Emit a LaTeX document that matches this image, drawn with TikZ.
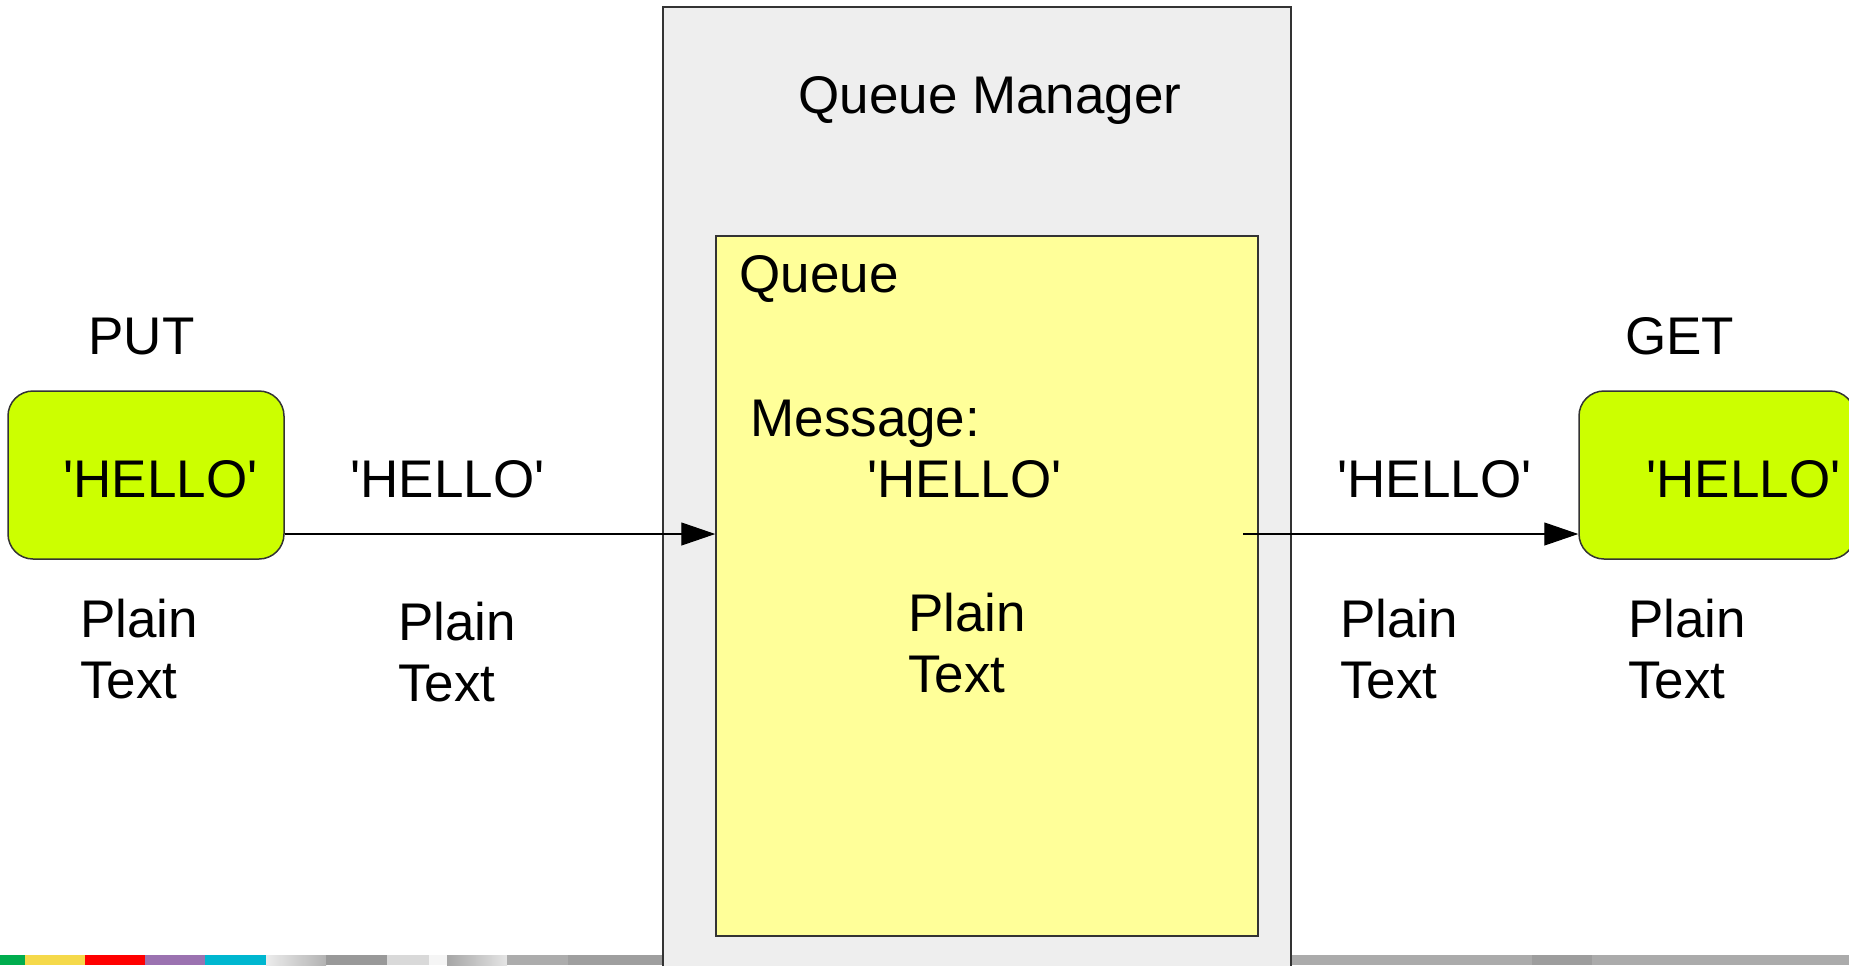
\documentclass[tikz,border=0pt]{standalone}
\usepackage{fontspec}
\setmainfont{Liberation Sans}
\usetikzlibrary{arrows.meta}
\newcommand{\sq}{\textquotesingle}
\definecolor{qmgray}{HTML}{EEEEEE}
\definecolor{qyellow}{HTML}{FFFF99}
\definecolor{lime}{HTML}{CCFF00}
\definecolor{edge}{HTML}{333333}
\definecolor{sgreen}{HTML}{00AD4E}
\definecolor{syellow}{HTML}{F5D94A}
\definecolor{sred}{HTML}{FF0000}
\definecolor{spurple}{HTML}{9B72B0}
\definecolor{scyan}{HTML}{00B7D0}
\definecolor{sgray}{HTML}{ABABAB}
\tikzset{
  lbl/.style={inner sep=0pt, anchor=base west, font=\fontsize{26.5}{30.5}\selectfont},
  msgbox/.style={draw=edge, line width=0.75pt, fill=lime, rounded corners=12.5pt,
    minimum width=138pt, minimum height=84pt, inner sep=0pt},
  flow/.style={draw=black, line width=0.6pt, -{Triangle[length=17pt,width=11.5pt]}}
}
\begin{document}
\begin{tikzpicture}[x=0.5pt,y=-0.5pt]
\useasboundingbox (0,0) rectangle (1849,965);
\clip (0,0) rectangle (1849,965);
% bottom colour strip
\fill[sgreen] (0,955) rectangle (25,965);
\fill[syellow] (25,955) rectangle (85,965);
\fill[sred] (85,955) rectangle (145,965);
\fill[spurple] (145,955) rectangle (205,965);
\fill[scyan] (205,955) rectangle (266,965);
\shade[left color=gray!15, right color=gray!60] (266,955) rectangle (326,965);
\fill[gray!80] (326,955) rectangle (387,965);
\fill[gray!30] (387,955) rectangle (429,965);
\fill[gray!8] (429,955) rectangle (447,965);
\shade[left color=gray!70, right color=gray!20] (447,955) rectangle (507,965);
\fill[gray!65] (507,955) rectangle (568,965);
\fill[gray!75] (568,955) rectangle (664,965);
\fill[sgray] (1291,955) rectangle (1849,965);
\fill[sgray!92!black] (1532,955) rectangle (1592,965);
% queue manager
\node[draw=edge, line width=0.75pt, fill=qmgray, minimum width=314pt, minimum height=496.5pt, inner sep=0pt] (qm) at (977,503.5) {};
\node[draw=edge, line width=0.75pt, fill=qyellow, minimum width=271pt, minimum height=350pt, inner sep=0pt] (queue) at (987,586) {};
\node[lbl] (qmtitle) at (798,113) {Queue Manager};
\node[lbl] (qtitle) at (739,292) {Queue};
\node[lbl] (msg) at (750,436) {Message:};
\node[lbl] (msgval) at (867,497) {\sq HELLO\sq};
\node[lbl] (qplain) at (908,631) {Plain};
\node[lbl] (qtext) at (908,692) {Text};
% put side
\node[msgbox] (put) at (146,475) {};
\node[lbl] (putlbl) at (88,354) {PUT};
\node[lbl] (putval) at (63,497) {\sq HELLO\sq};
\node[lbl] (putplain) at (80,637) {Plain};
\node[lbl] (puttext) at (80,698) {Text};
\node[lbl] (inval) at (350,497) {\sq HELLO\sq};
\node[lbl] (inplain) at (398,640) {Plain};
\node[lbl] (intext) at (398,701) {Text};
% get side
\node[msgbox] (get) at (1717,475) {};
\node[lbl] (getlbl) at (1625,354) {GET};
\node[lbl] (getval) at (1646,497) {\sq HELLO\sq};
\node[lbl] (getplain) at (1628,637) {Plain};
\node[lbl] (gettext) at (1628,698) {Text};
\node[lbl] (outval) at (1337,497) {\sq HELLO\sq};
\node[lbl] (outplain) at (1340,637) {Plain};
\node[lbl] (outtext) at (1340,698) {Text};
% connectors
\coordinate (ay) at (0,534);
\coordinate (outstart) at (1243,534);
\draw[flow] (put.east |- ay) -- (queue.west |- ay);
\draw[flow] (outstart) -- (get.west |- ay);
\end{tikzpicture}
\end{document}
